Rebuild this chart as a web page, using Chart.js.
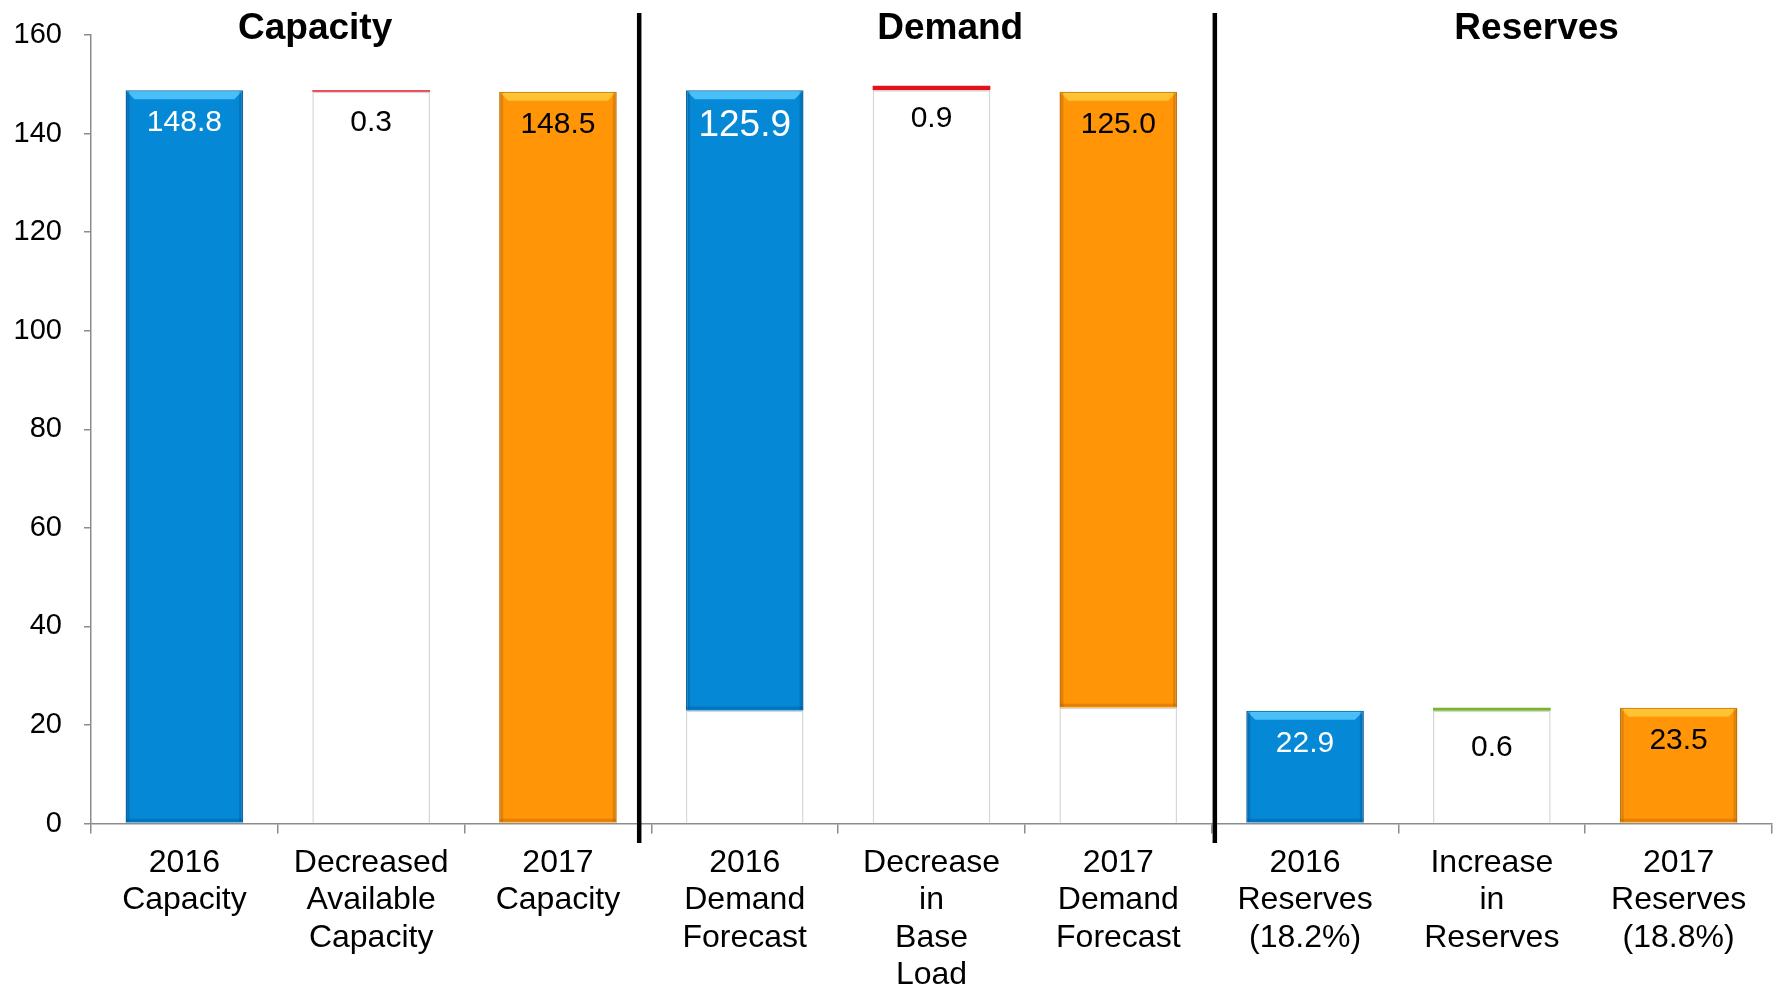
<!DOCTYPE html>
<html>
<head>
<meta charset="utf-8">
<script src="https://cdn.jsdelivr.net/npm/chart.js@4.4.1/dist/chart.umd.min.js"></script>
<style>
  html, body { margin: 0; padding: 0; background: #fff; }
  #wrap { width: 1781px; height: 987px; }
</style>
</head>
<body>
<div id="wrap"><canvas id="waterfall"></canvas></div>
<script>
// categories (multi-line tick labels)
var categories = [
  ["2016", "Capacity"],
  ["Decreased", "Available", "Capacity"],
  ["2017", "Capacity"],
  ["2016", "Demand", "Forecast"],
  ["Decrease", "in", "Base", "Load"],
  ["2017", "Demand", "Forecast"],
  ["2016", "Reserves", "(18.2%)"],
  ["Increase", "in", "Reserves"],
  ["2017", "Reserves", "(18.8%)"]
];
// floating bars [from, to]
var startValues  = [[0, 148.8], null, null, [22.9, 148.8], null, null, [0, 22.9], null, null];
var baseValues   = [null, [0, 148.5], null, [0, 22.9], [0, 148.8], [0, 23.5], null, [0, 22.9], null];
var changeValues = [null, [148.5, 148.8], null, null, [148.8, 149.7], null, null, [22.9, 23.5], null];
var endValues    = [null, null, [0, 148.5], null, null, [23.5, 148.5], null, null, [0, 23.5]];
var valueLabels  = ["148.8", "0.3", "148.5", "125.9", "0.9", "125.0", "22.9", "0.6", "23.5"];
var groupTitles  = ["Capacity", "Demand", "Reserves"];
var yMin = 0, yMax = 160, yStep = 20;

// styling
var blue = "#0589d6", orange = "#ff9507", red = "#e3131b", green = "#77b52a";
var changeColors = [null, red, null, null, red, null, null, green, null];
var labelColors = ["#fff", "#000", "#000", "#fff", "#000", "#000", "#fff", "#000", "#000"];
var titlePos = [0.70, 4.10, 7.24];    // in category index units
var separatorPos = [2.435, 5.517];
var FONT = "'Liberation Sans', Arial, sans-serif";

function catPixel(scale, idx) {
  var w = (scale.right - scale.left) / categories.length;
  return scale.left + (idx + 0.5) * w;
}

// light bevel on the coloured bars
var bevel = {
  id: "bevel",
  afterDatasetsDraw: function (chart) {
    var c = chart.ctx;
    [1, 3].forEach(function (di) {
      var light = di === 1 ? "rgba(90,205,255,0.8)" : "rgba(255,205,60,0.8)";
      var dark = di === 1 ? "rgba(0,70,130,0.3)" : "rgba(150,80,0,0.28)";
      chart.getDatasetMeta(di).data.forEach(function (bar) {
        if (bar.skip || isNaN(bar.y)) return;
        var l = bar.x - bar.width / 2, r = bar.x + bar.width / 2, t = bar.y, b = bar.base, d = 9;
        if (b - t < 2 * d) return;
        c.save();
        c.fillStyle = light;
        c.beginPath();
        c.moveTo(l + 1, t + 1); c.lineTo(r - 1, t + 1); c.lineTo(r - d, t + d); c.lineTo(l + d, t + d);
        c.closePath(); c.fill();
        c.fillStyle = dark;
        c.fillRect(l + 1, t + 1, 3, b - t - 2);
        c.fillRect(r - 4, t + 1, 3, b - t - 2);
        c.fillRect(l + 1, b - 4, r - l - 2, 3);
        c.restore();
      });
    });
  }
};

var overlay = {
  id: "overlay",
  afterDraw: function (chart) {
    var c = chart.ctx, xs = chart.scales.x, ys = chart.scales.y;
    c.save();
    // value labels
    c.textAlign = "center";
    c.textBaseline = "alphabetic";
    for (var i = 0; i < categories.length; i++) {
      var top = -Infinity;
      [startValues, baseValues, changeValues, endValues].forEach(function (arr) {
        if (arr[i]) top = Math.max(top, arr[i][1]);
      });
      var big = valueLabels[i] === "125.9";
      var off = big ? 46 : (valueLabels[i] === "0.6" ? 48 : 41);
      c.font = (big ? "37px " : "30px ") + FONT;
      c.fillStyle = labelColors[i];
      c.fillText(valueLabels[i], catPixel(xs, i), ys.getPixelForValue(top) + off);
    }
    // separators
    c.strokeStyle = "#000";
    c.lineWidth = 4.5;
    separatorPos.forEach(function (p) {
      var x = catPixel(xs, p);
      c.beginPath();
      c.moveTo(x, 13);
      c.lineTo(x, 843);
      c.stroke();
    });
    // group titles
    c.fillStyle = "#000";
    c.font = "bold 37px " + FONT;
    groupTitles.forEach(function (t, k) {
      c.fillText(t, catPixel(xs, titlePos[k]), 39);
    });
    c.restore();
  }
};

new Chart(document.getElementById("waterfall"), {
  type: "bar",
  data: {
    labels: categories,
    datasets: [
      { label: "base", data: baseValues, backgroundColor: "#fff", borderColor: "#d6d6d6", borderWidth: 1.5 },
      { label: "start", data: startValues, backgroundColor: blue, borderColor: "#0b6ca8", borderWidth: 1.5 },
      { label: "change", data: changeValues, backgroundColor: changeColors, borderWidth: 0 },
      { label: "end", data: endValues, backgroundColor: orange, borderColor: "#c9780c", borderWidth: 1.5 }
    ]
  },
  options: {
    responsive: true,
    maintainAspectRatio: false,
    animation: false,
    barPercentage: 0.63,
    categoryPercentage: 1.0,
    layout: { padding: { top: 35, right: 9, left: 0, bottom: 0 } },
    plugins: {
      legend: { display: false },
      tooltip: { enabled: false }
    },
    scales: {
      x: {
        stacked: true,
        grid: { offset: true, drawOnChartArea: false, drawTicks: true, tickLength: 10, color: "#8c8c8c", lineWidth: 1.5 },
        border: { color: "#8c8c8c", width: 1.5 },
        ticks: {
          autoSkip: false, maxRotation: 0, padding: 11, color: "#000",
          font: { family: FONT, size: 32, lineHeight: 1.17 }
        },
        afterFit: function (s) { s.height = 163.5; }
      },
      y: {
        min: yMin, max: yMax,
        grid: { drawOnChartArea: false, drawTicks: true, tickLength: 7, color: "#8c8c8c", lineWidth: 1.5 },
        border: { color: "#8c8c8c", width: 1.5 },
        ticks: { stepSize: yStep, padding: 22, color: "#000", font: { family: FONT, size: 29 } },
        afterFit: function (s) { s.width = 91; s.paddingTop = 0; s.paddingBottom = 0; }
      }
    }
  },
  plugins: [bevel, overlay]
});
</script>
</body>
</html>
